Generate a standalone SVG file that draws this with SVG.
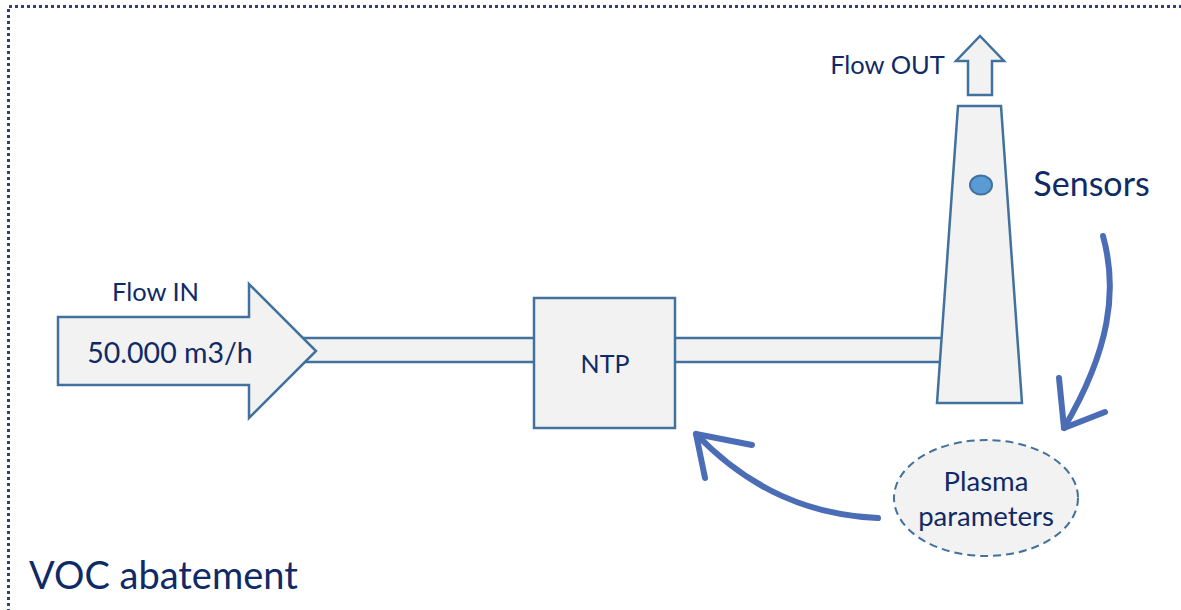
<svg xmlns="http://www.w3.org/2000/svg" width="1181" height="610" viewBox="0 0 1181 610">
<style>
.shape{fill:#f2f2f2;stroke:#41719c;stroke-width:2.5;stroke-linejoin:miter}
.t{font-family:Lato,"Open Sans",sans-serif;fill:#0f2a66}
.sk{fill:none;stroke:#4a6db5;stroke-width:6;stroke-linecap:round;stroke-linejoin:round}
</style>
<rect width="1181" height="610" fill="#fff"/>
<path d="M8.5,612 V6.5 H1181" fill="none" stroke="#2f4270" stroke-width="3" stroke-dasharray="3 3"/>
<g id="pipes">
<rect class="shape" x="300" y="338" width="236" height="24"/>
<rect class="shape" x="674" y="338" width="272" height="24"/>
</g>
<g id="flow-in">
<path class="shape" d="M58,317 H249 V284 L316,351 L249,418 V385 H58 Z"/>
<text class="t" x="155.5" y="301" font-size="25.5" text-anchor="middle">Flow IN</text>
<text class="t" x="170" y="363" font-size="28.5" text-anchor="middle">50.000 m3/h</text>
</g>
<g id="ntp">
<rect class="shape" x="534" y="298" width="141" height="130"/>
<text class="t" x="605" y="373" font-size="25" text-anchor="middle">NTP</text>
</g>
<g id="chimney">
<path class="shape" d="M958,106 H1001 L1022,403 H937 Z"/>
<ellipse cx="981" cy="185" rx="11" ry="9.5" fill="#5b9bd5" stroke="#41719c" stroke-width="2"/>
</g>
<g id="flow-out">
<path class="shape" d="M968,95 V61 H956 L980,36 L1004,61 H992 V95 Z"/>
<text class="t" x="887.5" y="74" font-size="25.5" text-anchor="middle">Flow OUT</text>
</g>
<g id="sensors">
<text class="t" x="1091.5" y="196" font-size="34" text-anchor="middle">Sensors</text>
</g>
<g id="plasma">
<ellipse cx="986" cy="498" rx="92" ry="58" fill="#f2f2f2" stroke="#41719c" stroke-width="2" stroke-dasharray="8 5"/>
<text class="t" x="986" y="491" font-size="27.5" text-anchor="middle">Plasma</text>
<text class="t" x="986" y="526" font-size="27.5" text-anchor="middle">parameters</text>
</g>
<g id="connectors">
<path class="sk" d="M1103,236 C1118,290 1110,350 1064,428"/>
<path class="sk" d="M1059,378 L1064,428 L1105,412"/>
<path class="sk" d="M878,518 C810,515 750,490 696,434"/>
<path class="sk" d="M752,445 L696,434 L705,478"/>
</g>
<g id="title">
<text class="t" x="29" y="589" font-size="38">VOC abatement</text>
</g>
</svg>
